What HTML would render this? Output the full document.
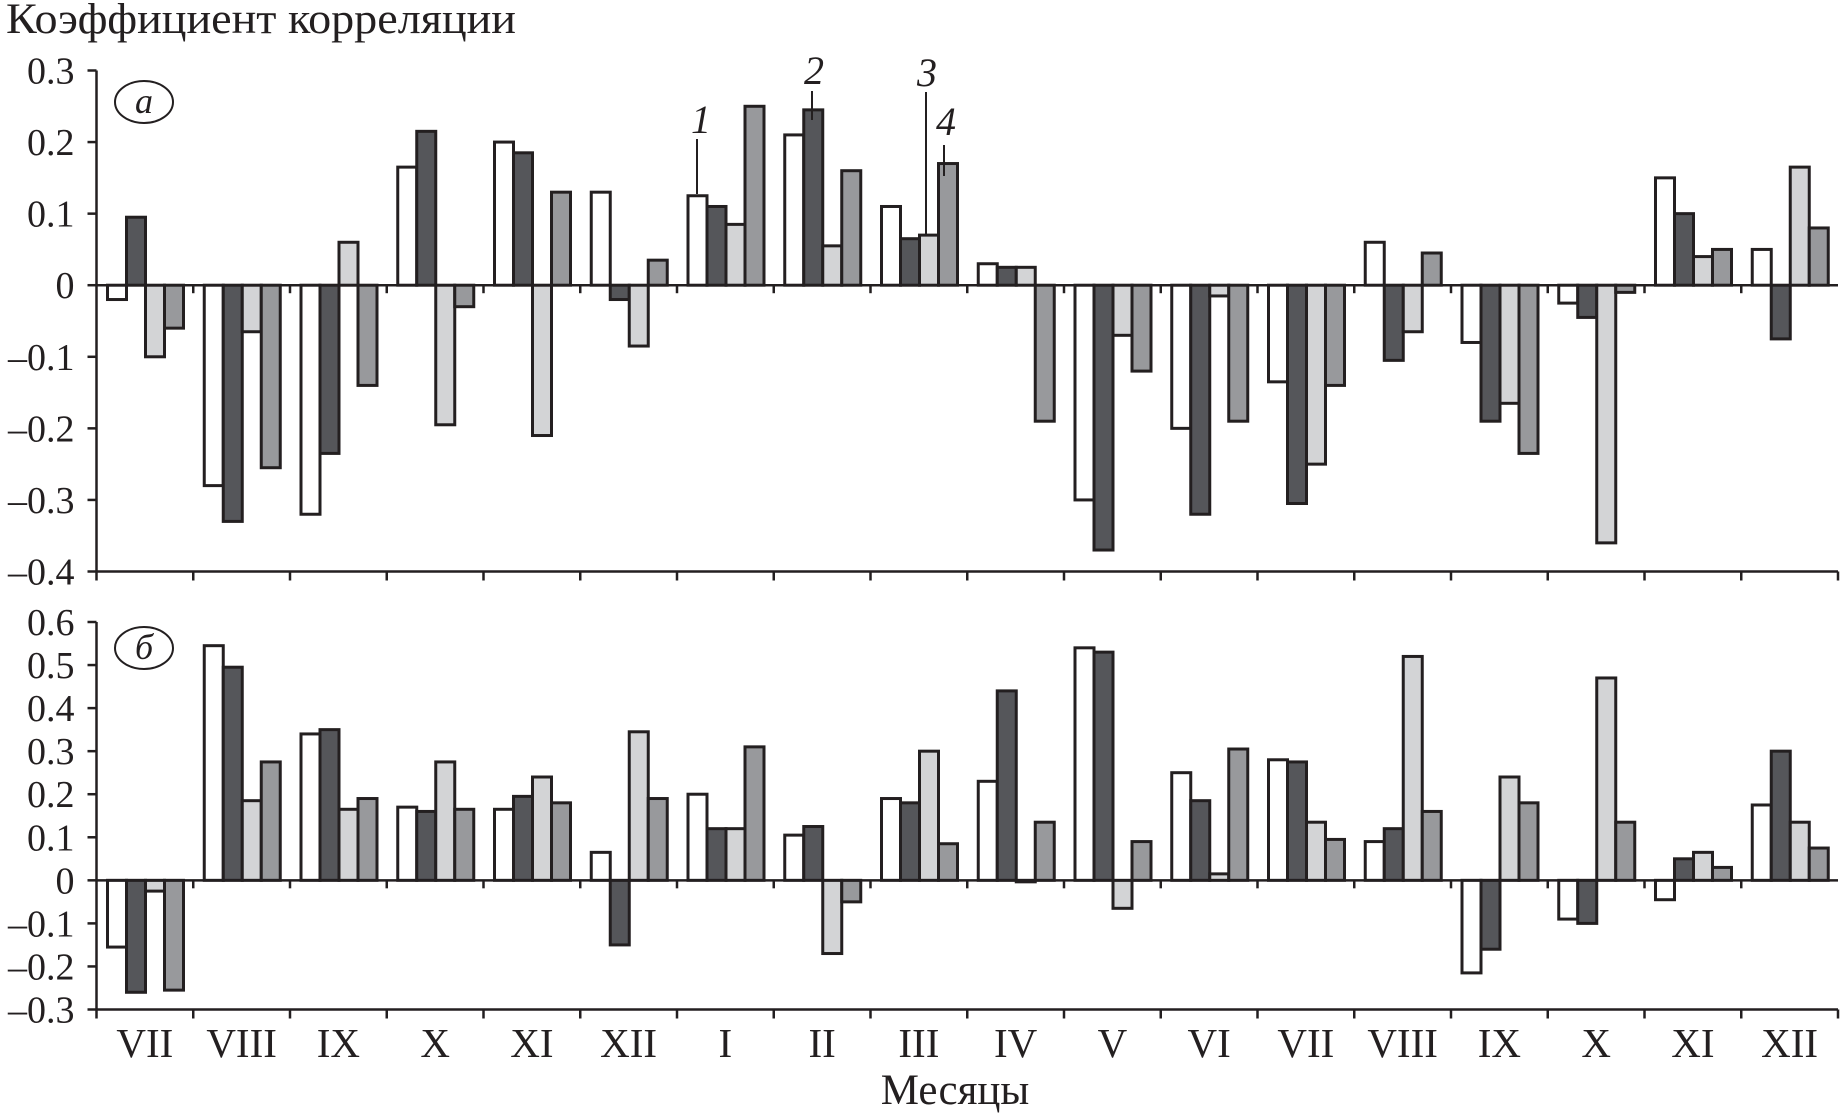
<!DOCTYPE html>
<html><head><meta charset="utf-8"><style>
html,body{margin:0;padding:0;background:#fff}
svg{display:block}
text{font-family:"Liberation Serif",serif;fill:#231f20}
</style></head><body>
<svg id="chart" width="1841" height="1117" viewBox="0 0 1841 1117" xmlns="http://www.w3.org/2000/svg">
<text x="6" y="33" font-size="43" textLength="510" lengthAdjust="spacingAndGlyphs">Коэффициент корреляции</text>
<text x="955" y="1104" font-size="43" text-anchor="middle">Месяцы</text>
<g id="g"></g>
</svg>
<script>
const months = ["VII","VIII","IX","X","XI","XII","I","II","III","IV","V","VI","VII","VIII","IX","X","XI","XII"];
const seriesA1 = [-0.02,-0.28,-0.32,0.165,0.20,0.13,0.125,0.21,0.11,0.03,-0.30,-0.20,-0.135,0.06,-0.08,-0.025,0.15,0.05];
const seriesA2 = [0.095,-0.33,-0.235,0.215,0.185,-0.02,0.11,0.245,0.065,0.025,-0.37,-0.32,-0.305,-0.105,-0.19,-0.045,0.10,-0.075];
const seriesA3 = [-0.10,-0.065,0.06,-0.195,-0.21,-0.085,0.085,0.055,0.07,0.025,-0.07,-0.015,-0.25,-0.065,-0.165,-0.36,0.04,0.165];
const seriesA4 = [-0.06,-0.255,-0.14,-0.03,0.13,0.035,0.25,0.16,0.17,-0.19,-0.12,-0.19,-0.14,0.045,-0.235,-0.01,0.05,0.08];
const seriesB1 = [-0.155,0.545,0.34,0.17,0.165,0.065,0.20,0.105,0.19,0.23,0.54,0.25,0.28,0.09,-0.215,-0.09,-0.045,0.175];
const seriesB2 = [-0.26,0.495,0.35,0.16,0.195,-0.15,0.12,0.125,0.18,0.44,0.53,0.185,0.275,0.12,-0.16,-0.10,0.05,0.30];
const seriesB3 = [-0.025,0.185,0.165,0.275,0.24,0.345,0.12,-0.17,0.30,0,-0.065,0.015,0.135,0.52,0.24,0.47,0.065,0.135];
const seriesB4 = [-0.255,0.275,0.19,0.165,0.18,0.19,0.31,-0.05,0.085,0.135,0.09,0.305,0.095,0.16,0.18,0.135,0.03,0.075];
const ticksA = [0.3,0.2,0.1,0,-0.1,-0.2,-0.3,-0.4];
const ticksB = [0.6,0.5,0.4,0.3,0.2,0.1,0,-0.1,-0.2,-0.3];

const NS="http://www.w3.org/2000/svg", G=document.getElementById('g');
const colors=["#ffffff","#55565a","#d3d4d6","#98999c"];
const X0=96.5, X1=1838, GW=(X1-X0)/months.length, BW=19, OFF=11;
function mk(t,a){const e=document.createElementNS(NS,t);for(const k in a)e.setAttribute(k,a[k]);G.appendChild(e);return e;}
function xg(i){return X0+i*GW;}
function lbl(v){return v<0?"\u2013"+Math.abs(v).toFixed(1):(v===0?"0":v.toFixed(1));}
function panel(name,ymax,ymin,top,bot,series,ticks){
  const y=v=>top+(ymax-v)/(ymax-ymin)*(bot-top);
  const y0=y(0);
  series.forEach((s,si)=>{s.forEach((v,i)=>{
    const x=xg(i)+OFF+si*BW, a=y(v);
    const r=mk('rect',{x:x,y:Math.min(a,y0),width:BW,height:Math.max(Math.abs(a-y0),1.5),fill:colors[si],stroke:"#231f20","stroke-width":3});
    
    
  });});
  const zl=mk('line',{x1:X0,x2:X1,y1:y0,y2:y0,stroke:"#231f20","stroke-width":2.5});
  
  for(let i=1;i<months.length;i++){mk('line',{x1:xg(i),x2:xg(i),y1:y0,y2:y0+8,stroke:"#231f20","stroke-width":2.5});}
  const ax=mk('line',{x1:X0,x2:X0,y1:top,y2:bot,stroke:"#231f20","stroke-width":2.5});
  
  const bx=mk('line',{x1:X0,x2:X1,y1:bot,y2:bot,stroke:"#231f20","stroke-width":2.5});
  
  for(let i=0;i<=months.length;i++){mk('line',{x1:xg(i),x2:xg(i),y1:bot,y2:bot+9,stroke:"#231f20","stroke-width":2.5});}
  ticks.forEach(t=>{
    mk('line',{x1:X0-9,x2:X0,y1:y(t),y2:y(t),stroke:"#231f20","stroke-width":2.5});
    const tx=mk('text',{x:X0-22,y:y(t)+13,"font-size":38,"text-anchor":"end"});tx.textContent=lbl(t);
    
  });
}
panel('panel-a',0.3,-0.4,70.5,571.5,[seriesA1,seriesA2,seriesA3,seriesA4],ticksA);
panel('panel-b',0.6,-0.3,622,1009.5,[seriesB1,seriesB2,seriesB3,seriesB4],ticksB);
months.forEach((m,i)=>{const t=mk('text',{x:xg(i)+GW/2,y:1057,"font-size":41,"text-anchor":"middle"});t.textContent=m;
  });
[["а",102,"panel-a-label"],["б",648,"panel-b-label"]].forEach(p=>{
  const e=mk('ellipse',{cx:144,cy:p[1],rx:29,ry:21,fill:"none",stroke:"#231f20","stroke-width":2});
  
  const t=mk('text',{x:144,y:p[1]+11,"font-size":36,"font-style":"italic","text-anchor":"middle"});t.textContent=p[0];
  
});
[["1",701,133,697,139,697,194],["2",814,84,812,91,812,120],["3",927,86,926,92,926,236],["4",946,135,944,145,944,176]].forEach(a=>{
  const t=mk('text',{x:a[1],y:a[2],"font-size":40,"font-style":"italic","text-anchor":"middle"});t.textContent=a[0];
  
  mk('line',{x1:a[3],y1:a[4],x2:a[5],y2:a[6],stroke:"#231f20","stroke-width":2});
});
</script>
</body></html>
